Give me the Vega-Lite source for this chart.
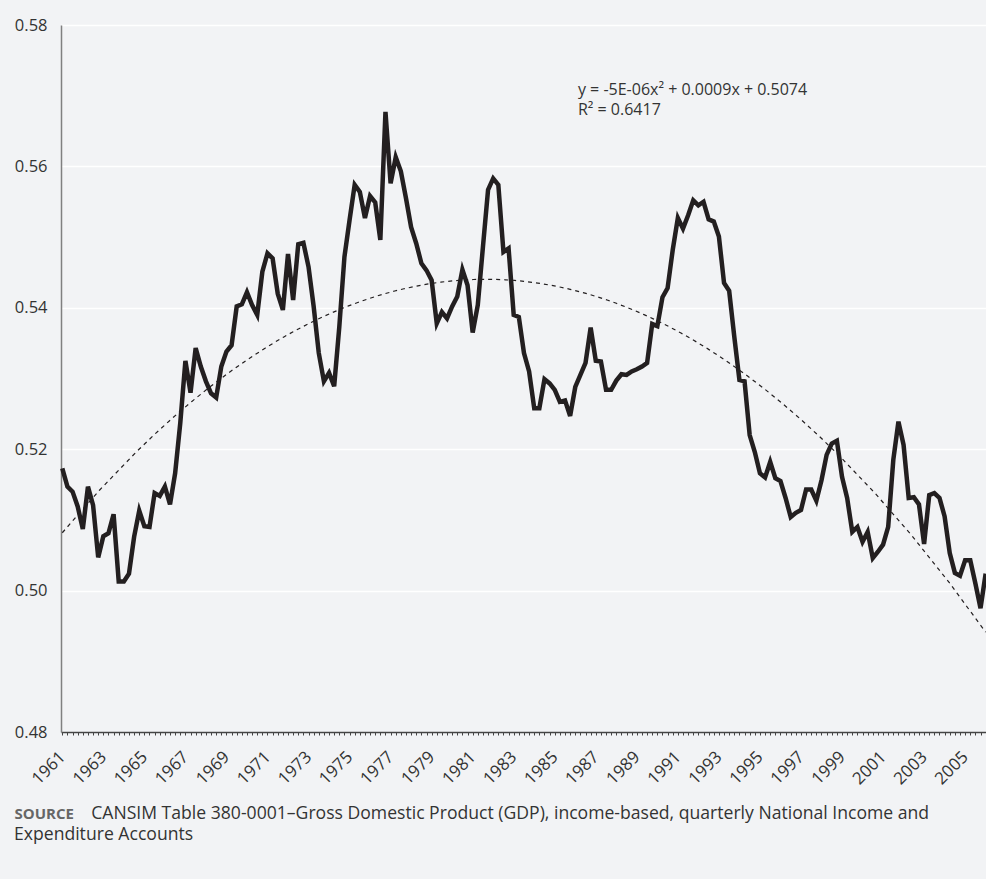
{
  "$schema": "https://vega.github.io/schema/vega-lite/v6.json",
  "width": 925,
  "height": 707,
  "autosize": "none",
  "padding": {"left": 61, "top": 25, "right": 0, "bottom": 147},
  "background": "#f2f3f5",
  "config": {
    "view": {"stroke": null},
    "font": "Open Sans"
  },
  "title": {
    "text": "Expenditure Accounts",
    "orient": "bottom",
    "anchor": "start",
    "frame": "bounds",
    "offset": 4,
    "fontSize": 17.6,
    "fontWeight": "normal",
    "color": "#333333",
    "font": "Open Sans"
  },
  "data": {
    "values": [
      {"t": 1961, "v": 0.5173}, {"t": 1961.25, "v": 0.5147}, {"t": 1961.5, "v": 0.514}, {"t": 1961.75, "v": 0.5119},
      {"t": 1962, "v": 0.5087}, {"t": 1962.25, "v": 0.5147}, {"t": 1962.5, "v": 0.5121}, {"t": 1962.75, "v": 0.5047},
      {"t": 1963, "v": 0.5077}, {"t": 1963.25, "v": 0.5081}, {"t": 1963.5, "v": 0.5108}, {"t": 1963.75, "v": 0.5013},
      {"t": 1964, "v": 0.5013}, {"t": 1964.25, "v": 0.5024}, {"t": 1964.5, "v": 0.5076}, {"t": 1964.75, "v": 0.5113},
      {"t": 1965, "v": 0.5091}, {"t": 1965.25, "v": 0.509}, {"t": 1965.5, "v": 0.5138}, {"t": 1965.75, "v": 0.5134},
      {"t": 1966, "v": 0.5147}, {"t": 1966.25, "v": 0.5122}, {"t": 1966.5, "v": 0.5166}, {"t": 1966.75, "v": 0.5237},
      {"t": 1967, "v": 0.5325}, {"t": 1967.25, "v": 0.528}, {"t": 1967.5, "v": 0.5343}, {"t": 1967.75, "v": 0.5317},
      {"t": 1968, "v": 0.5296}, {"t": 1968.25, "v": 0.5279}, {"t": 1968.5, "v": 0.5273}, {"t": 1968.75, "v": 0.5317},
      {"t": 1969, "v": 0.5338}, {"t": 1969.25, "v": 0.5347}, {"t": 1969.5, "v": 0.5402}, {"t": 1969.75, "v": 0.5405},
      {"t": 1970, "v": 0.5422}, {"t": 1970.25, "v": 0.5404}, {"t": 1970.5, "v": 0.539}, {"t": 1970.75, "v": 0.5451},
      {"t": 1971, "v": 0.5477}, {"t": 1971.25, "v": 0.547}, {"t": 1971.5, "v": 0.542}, {"t": 1971.75, "v": 0.5397},
      {"t": 1972, "v": 0.5476}, {"t": 1972.25, "v": 0.5411}, {"t": 1972.5, "v": 0.549}, {"t": 1972.75, "v": 0.5492},
      {"t": 1973, "v": 0.5458}, {"t": 1973.25, "v": 0.5402}, {"t": 1973.5, "v": 0.5336}, {"t": 1973.75, "v": 0.5296},
      {"t": 1974, "v": 0.5308}, {"t": 1974.25, "v": 0.5289}, {"t": 1974.5, "v": 0.5373}, {"t": 1974.75, "v": 0.5472},
      {"t": 1975, "v": 0.5524}, {"t": 1975.25, "v": 0.5574}, {"t": 1975.5, "v": 0.5564}, {"t": 1975.75, "v": 0.5527},
      {"t": 1976, "v": 0.5558}, {"t": 1976.25, "v": 0.5549}, {"t": 1976.5, "v": 0.5496}, {"t": 1976.75, "v": 0.5677},
      {"t": 1977, "v": 0.5576}, {"t": 1977.25, "v": 0.5613}, {"t": 1977.5, "v": 0.5593}, {"t": 1977.75, "v": 0.5555},
      {"t": 1978, "v": 0.5514}, {"t": 1978.25, "v": 0.5491}, {"t": 1978.5, "v": 0.5463}, {"t": 1978.75, "v": 0.5453},
      {"t": 1979, "v": 0.5439}, {"t": 1979.25, "v": 0.5378}, {"t": 1979.5, "v": 0.5394}, {"t": 1979.75, "v": 0.5385},
      {"t": 1980, "v": 0.5402}, {"t": 1980.25, "v": 0.5416}, {"t": 1980.5, "v": 0.5454}, {"t": 1980.75, "v": 0.5432},
      {"t": 1981, "v": 0.5365}, {"t": 1981.25, "v": 0.5404}, {"t": 1981.5, "v": 0.5486}, {"t": 1981.75, "v": 0.5567},
      {"t": 1982, "v": 0.5583}, {"t": 1982.25, "v": 0.5574}, {"t": 1982.5, "v": 0.5479}, {"t": 1982.75, "v": 0.5484},
      {"t": 1983, "v": 0.539}, {"t": 1983.25, "v": 0.5387}, {"t": 1983.5, "v": 0.5336}, {"t": 1983.75, "v": 0.531},
      {"t": 1984, "v": 0.5258}, {"t": 1984.25, "v": 0.5258}, {"t": 1984.5, "v": 0.5299}, {"t": 1984.75, "v": 0.5293},
      {"t": 1985, "v": 0.5284}, {"t": 1985.25, "v": 0.5267}, {"t": 1985.5, "v": 0.5269}, {"t": 1985.75, "v": 0.5247},
      {"t": 1986, "v": 0.5288}, {"t": 1986.25, "v": 0.5305}, {"t": 1986.5, "v": 0.5322}, {"t": 1986.75, "v": 0.5372},
      {"t": 1987, "v": 0.5325}, {"t": 1987.25, "v": 0.5324}, {"t": 1987.5, "v": 0.5284}, {"t": 1987.75, "v": 0.5284},
      {"t": 1988, "v": 0.5297}, {"t": 1988.25, "v": 0.5306}, {"t": 1988.5, "v": 0.5305}, {"t": 1988.75, "v": 0.531},
      {"t": 1989, "v": 0.5313}, {"t": 1989.25, "v": 0.5317}, {"t": 1989.5, "v": 0.5322}, {"t": 1989.75, "v": 0.5377},
      {"t": 1990, "v": 0.5374}, {"t": 1990.25, "v": 0.5415}, {"t": 1990.5, "v": 0.5428}, {"t": 1990.75, "v": 0.5482},
      {"t": 1991, "v": 0.5527}, {"t": 1991.25, "v": 0.5512}, {"t": 1991.5, "v": 0.5531}, {"t": 1991.75, "v": 0.5552},
      {"t": 1992, "v": 0.5545}, {"t": 1992.25, "v": 0.555}, {"t": 1992.5, "v": 0.5525}, {"t": 1992.75, "v": 0.5522},
      {"t": 1993, "v": 0.5501}, {"t": 1993.25, "v": 0.5435}, {"t": 1993.5, "v": 0.5424}, {"t": 1993.75, "v": 0.5359},
      {"t": 1994, "v": 0.5298}, {"t": 1994.25, "v": 0.5296}, {"t": 1994.5, "v": 0.522}, {"t": 1994.75, "v": 0.5196},
      {"t": 1995, "v": 0.5166}, {"t": 1995.25, "v": 0.516}, {"t": 1995.5, "v": 0.5182}, {"t": 1995.75, "v": 0.5159},
      {"t": 1996, "v": 0.5155}, {"t": 1996.25, "v": 0.5131}, {"t": 1996.5, "v": 0.5104}, {"t": 1996.75, "v": 0.511},
      {"t": 1997, "v": 0.5114}, {"t": 1997.25, "v": 0.5143}, {"t": 1997.5, "v": 0.5143}, {"t": 1997.75, "v": 0.5127},
      {"t": 1998, "v": 0.5156}, {"t": 1998.25, "v": 0.5192}, {"t": 1998.5, "v": 0.5208}, {"t": 1998.75, "v": 0.5212},
      {"t": 1999, "v": 0.5161}, {"t": 1999.25, "v": 0.5131}, {"t": 1999.5, "v": 0.5083}, {"t": 1999.75, "v": 0.509},
      {"t": 2000, "v": 0.5069}, {"t": 2000.25, "v": 0.5083}, {"t": 2000.5, "v": 0.5046}, {"t": 2000.75, "v": 0.5055},
      {"t": 2001, "v": 0.5065}, {"t": 2001.25, "v": 0.509}, {"t": 2001.5, "v": 0.5185}, {"t": 2001.75, "v": 0.5239},
      {"t": 2002, "v": 0.5206}, {"t": 2002.25, "v": 0.5131}, {"t": 2002.5, "v": 0.5132}, {"t": 2002.75, "v": 0.5122},
      {"t": 2003, "v": 0.5066}, {"t": 2003.25, "v": 0.5135}, {"t": 2003.5, "v": 0.5138}, {"t": 2003.75, "v": 0.5131},
      {"t": 2004, "v": 0.5105}, {"t": 2004.25, "v": 0.5053}, {"t": 2004.5, "v": 0.5025}, {"t": 2004.75, "v": 0.5021},
      {"t": 2005, "v": 0.5043}, {"t": 2005.25, "v": 0.5043}, {"t": 2005.5, "v": 0.501}, {"t": 2005.75, "v": 0.4975},
      {"t": 2006, "v": 0.5024}
    ]
  },
  "encoding": {
    "x": {
      "field": "t",
      "type": "quantitative",
      "scale": {"domain": [1960.937, 2006.017], "nice": false, "zero": false},
      "axis": {
        "title": "CANSIM Table 380-0001–Gross Domestic Product (GDP), income-based, quarterly National Income and",
        "titleX": 29.7,
        "titleY": 86,
        "titleAlign": "left",
        "titleBaseline": "alphabetic",
        "titleFont": "Open Sans",
        "titleFontSize": 17.6,
        "titleFontWeight": "normal",
        "titleColor": "#333333",
        "values": [1961,1961.25,1961.5,1961.75,1962,1962.25,1962.5,1962.75,1963,1963.25,1963.5,1963.75,1964,1964.25,1964.5,1964.75,1965,1965.25,1965.5,1965.75,1966,1966.25,1966.5,1966.75,1967,1967.25,1967.5,1967.75,1968,1968.25,1968.5,1968.75,1969,1969.25,1969.5,1969.75,1970,1970.25,1970.5,1970.75,1971,1971.25,1971.5,1971.75,1972,1972.25,1972.5,1972.75,1973,1973.25,1973.5,1973.75,1974,1974.25,1974.5,1974.75,1975,1975.25,1975.5,1975.75,1976,1976.25,1976.5,1976.75,1977,1977.25,1977.5,1977.75,1978,1978.25,1978.5,1978.75,1979,1979.25,1979.5,1979.75,1980,1980.25,1980.5,1980.75,1981,1981.25,1981.5,1981.75,1982,1982.25,1982.5,1982.75,1983,1983.25,1983.5,1983.75,1984,1984.25,1984.5,1984.75,1985,1985.25,1985.5,1985.75,1986,1986.25,1986.5,1986.75,1987,1987.25,1987.5,1987.75,1988,1988.25,1988.5,1988.75,1989,1989.25,1989.5,1989.75,1990,1990.25,1990.5,1990.75,1991,1991.25,1991.5,1991.75,1992,1992.25,1992.5,1992.75,1993,1993.25,1993.5,1993.75,1994,1994.25,1994.5,1994.75,1995,1995.25,1995.5,1995.75,1996,1996.25,1996.5,1996.75,1997,1997.25,1997.5,1997.75,1998,1998.25,1998.5,1998.75,1999,1999.25,1999.5,1999.75,2000,2000.25,2000.5,2000.75,2001,2001.25,2001.5,2001.75,2002,2002.25,2002.5,2002.75,2003,2003.25,2003.5,2003.75,2004,2004.25,2004.5,2004.75,2005,2005.25,2005.5,2005.75,2006],
        "labelExpr": "datum.value % 2 == 1 ? format(datum.value, 'd') : ''",
        "labelOverlap": false,
        "labelFlush": false,
        "labelAngle": -45,
        "labelAlign": "right",
        "labelBaseline": "middle",
        "labelPadding": 19,
        "labelFont": "Open Sans",
        "labelFontSize": 17,
        "labelColor": "#333333",
        "tickSize": 3,
        "tickWidth": 1,
        "tickColor": "#444444",
        "domainColor": "#444444",
        "domainWidth": 1.5,
        "grid": false
      }
    },
    "y": {
      "field": "v",
      "type": "quantitative",
      "scale": {"domain": [0.48, 0.58], "nice": false, "zero": false},
      "axis": {
        "title": "SOURCE",
        "titleAngle": 0,
        "titleX": -47,
        "titleY": 793,
        "titleAlign": "left",
        "titleBaseline": "alphabetic",
        "titleFont": "Open Sans",
        "titleFontSize": 15,
        "titleFontWeight": "bold",
        "titleColor": "#666666",
        "values": [0.48, 0.5, 0.52, 0.54, 0.56, 0.58],
        "format": ".2f",
        "labelFont": "Open Sans",
        "labelFontSize": 16.5,
        "labelColor": "#333333",
        "labelPadding": 14,
        "ticks": false,
        "domainColor": "#808080",
        "domainWidth": 1.5,
        "grid": true,
        "gridColor": "#ffffff",
        "gridWidth": 1.5
      }
    }
  },
  "layer": [
    {
      "mark": {"type": "line", "color": "#231f20", "strokeWidth": 4.5, "strokeJoin": "miter"}
    },
    {
      "transform": [
        {"regression": "v", "on": "t", "method": "poly", "order": 2}
      ],
      "mark": {"type": "line", "color": "#231f20", "strokeWidth": 1.2, "strokeDash": [4, 4]}
    },
    {
      "transform": [{"filter": "datum.t == 1961"}],
      "mark": {"type": "text", "align": "left", "baseline": "alphabetic", "font": "Open Sans", "fontSize": 16, "color": "#333333", "lineHeight": 20},
      "encoding": {
        "x": {"datum": 1986.13},
        "y": {"datum": 0.5701},
        "text": {"value": ["y = -5E-06x² + 0.0009x + 0.5074", "R² = 0.6417"]}
      }
    }
  ]
}
